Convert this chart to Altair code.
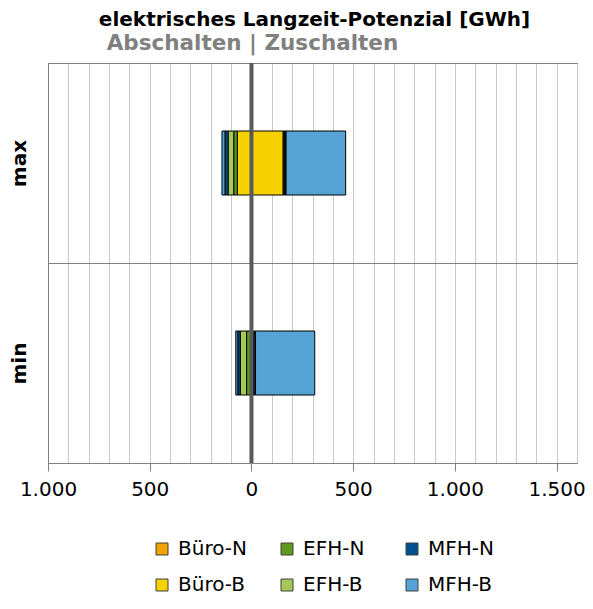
import altair as alt
import pandas as pd

# ---- data ----
CATEGORIES = ["max", "min"]
SERIES = ["Büro-N", "Büro-B", "EFH-N", "EFH-B", "MFH-N", "MFH-B"]
NEG_MAX = [-3, -67, -17, -28, -15, -15]   # Abschalten
POS_MAX = [3, 153, 5, 4, 5, 293]          # Zuschalten
NEG_MIN = [-1, -1, -22, -31, -12, -10]
POS_MIN = [2, 4, 4, 3, 7, 291]
LEGEND_ORDER = ["Büro-N", "EFH-N", "MFH-N", "Büro-B", "EFH-B", "MFH-B"]
LEGEND_COLORS = ["#F2A300", "#5E9A1E", "#00508F", "#F5D200", "#A5C857", "#55A3D5"]
X_TICKS = [-1000, -500, 0, 500, 1000, 1500]
GRID_TICKS = [-1000, -900, -800, -700, -600, -500, -400, -300, -200, -100, 0,
              100, 200, 300, 400, 500, 600, 700, 800, 900, 1000, 1100, 1200,
              1300, 1400, 1500, 1600]
X_DOMAIN = [-1000, 1600]
TITLE = "elektrisches Langzeit-Potenzial [GWh]"
SUBTITLE = "Abschalten | Zuschalten"

rows = []
for cat, negs, poss in [("max", NEG_MAX, POS_MAX), ("min", NEG_MIN, POS_MIN)]:
    for i, s in enumerate(SERIES):
        rows.append({"cat": cat, "series": s, "ord": i, "value": negs[i]})
        rows.append({"cat": cat, "series": s, "ord": i, "value": poss[i]})
df = pd.DataFrame(rows)

W, H = 529, 400
FONT = "DejaVu Sans"

bars = alt.Chart(df).mark_bar(size=64, stroke="black", strokeWidth=1).encode(
    x=alt.X("value:Q", stack="zero",
            scale=alt.Scale(domain=X_DOMAIN, nice=False, zero=False),
            axis=alt.Axis(values=X_TICKS,
                          labelExpr="replace(format(abs(datum.value), ','), ',', '.')",
                          grid=False, tickSize=8, tickColor="#808080",
                          domainColor="#808080", labelFont=FONT, labelFontSize=20,
                          labelColor="black", labelPadding=8, labelFlush=False,
                          labelOverlap=False, title=None)),
    y=alt.Y("cat:N", sort=CATEGORIES,
            scale=alt.Scale(paddingInner=0, paddingOuter=0),
            axis=alt.Axis(title=None, labelAngle=270, labelAlign="center",
                          labelBaseline="middle", labelFont=FONT, labelFontSize=20,
                          labelFontWeight="bold", labelColor="black", labelPadding=29,
                          ticks=False, domainColor="#808080", grid=True,
                          gridColor="#808080", tickBand="extent")),
    color=alt.Color("series:N",
                    scale=alt.Scale(domain=LEGEND_ORDER, range=LEGEND_COLORS),
                    legend=alt.Legend(title=None, orient="none", legendX=104, legendY=476,
                                      direction="horizontal", columns=3,
                                      symbolType="square", symbolSize=144,
                                      symbolStrokeColor="#404040", symbolStrokeWidth=1,
                                      labelFont=FONT, labelFontSize=20, labelColor="black",
                                      labelOffset=6, columnPadding=30, rowPadding=16,
                                      gridAlign="all", padding=0)),
    order=alt.Order("ord:Q"),
)

zero = alt.Chart(pd.DataFrame({"x": [0]})).mark_rule(color="#595959", strokeWidth=4).encode(
    x=alt.X("x:Q", axis=alt.Axis(orient="top", values=GRID_TICKS, grid=True,
                                 gridColor="#c8c8c8", gridWidth=1, labels=False,
                                 ticks=False, domain=False, title=None))
)

sub = alt.Chart(pd.DataFrame({"x": [0], "t": [SUBTITLE]})).mark_text(
    font=FONT, fontSize=21.5, fontWeight="bold", color="#808080",
    baseline="alphabetic", align="center", dx=1
).encode(x=alt.X("x:Q", axis=None), y=alt.value(-13), text="t:N")

title = alt.Chart(pd.DataFrame({"t": [TITLE]})).mark_text(
    font=FONT, fontSize=20, fontWeight="bold", color="black",
    baseline="alphabetic", align="center"
).encode(x=alt.value(W / 2 + 2), y=alt.value(-37), text="t:N")

chart = alt.layer(bars, zero, sub, title).resolve_axis(x="independent").properties(
    width=W, height=H,
    autosize=alt.AutoSizeParams(type="none"),
    padding={"left": 40, "top": 55, "right": 8, "bottom": 132},
).configure_view(stroke="#808080", strokeWidth=1)

chart.save("out.html", embed_options={"renderer": "svg", "actions": False})
